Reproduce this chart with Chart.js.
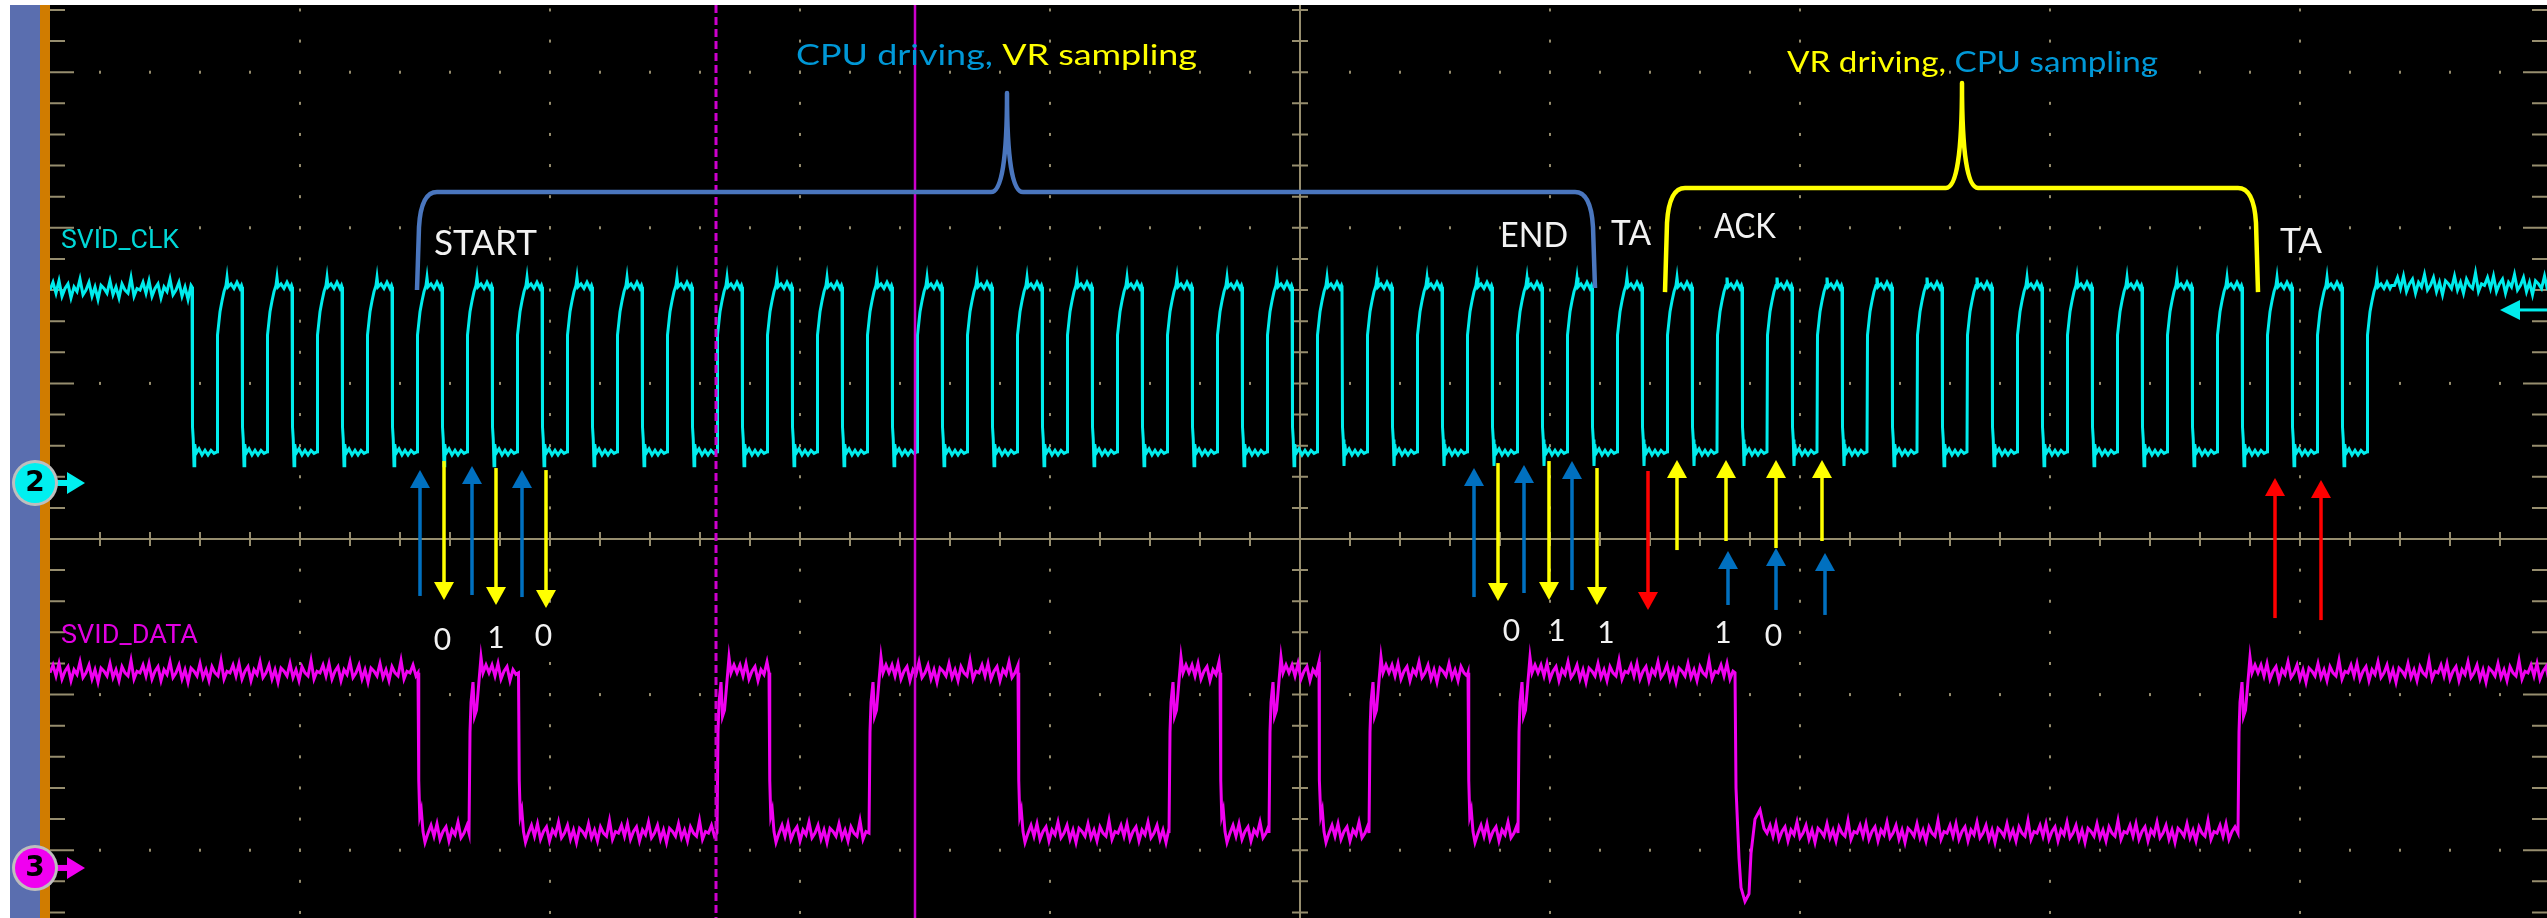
<!DOCTYPE html>
<html><head><meta charset="utf-8">
<script src="https://cdn.jsdelivr.net/npm/chart.js@4.4.1/dist/chart.umd.min.js"></script>
<style>html,body{margin:0;padding:0;background:#fff;overflow:hidden}canvas{display:block}</style>
</head><body>
<canvas id="c" width="2547" height="918"></canvas>
<script>
// ===== DATA (time in ns, 200 ns/div; amplitude in screen divisions, 0 = centre line) =====
// SVID_CLK falling-edge instants
const clkFallNs = [113.6, 153.6, 193.6, 233.6, 273.6, 313.6, 353.6, 393.6, 433.6, 473.6,
  513.6, 553.6, 593.6, 633.6, 673.6, 713.6, 753.6, 793.6, 833.6, 873.6,
  913.6, 953.6, 993.6, 1033.6, 1073.6, 1113.6, 1153.6, 1193.6, 1233.6, 1273.6,
  1313.6, 1353.6, 1393.6, 1433.6, 1473.6, 1513.6, 1553.6, 1593.6, 1633.6, 1673.6,
  1713.6, 1753.6, 1793.6, 1833.6];
// one clock cycle as seen on screen (offset from falling edge, ns / level, div)
const clkCycleDt  = [0, 0.4, 1.0, 1.6, 2.2, 3.2, 5.6, 8.0, 10.4, 12.8, 15.2, 17.6, 20.0, 20.4, 21.2, 22.4, 24.0, 25.6, 27.2, 28.0, 28.8, 31.2, 33.6, 36.0, 38.4, 39.6];
const clkCycleDiv = [1.62, 0.72, 0.64, 0.47, 0.61, 0.55, 0.58, 0.54, 0.57, 0.54, 0.57, 0.55, 0.56, 1.31, 1.37, 1.46, 1.53, 1.59, 1.63, 1.68, 1.62, 1.64, 1.61, 1.65, 1.61, 1.63];
const clkIdleLeftDiv = 1.60;
const clkIdleRightDiv = 1.63;

// SVID_DATA transitions
const dataEdgeNs   = [294.4, 335.2, 374.8, 533.6, 575.2, 655.2, 774.4, 895.2, 936.0, 975.2, 1015.2, 1055.2, 1134.4, 1174.4, 1348.0, 1750.4];
const dataEdgeKind = ['fall','rise','fall','rise','fall','rise','fall','rise','fall','rise','fall','rise','fall','rise','undershoot','rise'];
const dataHighDiv = -0.86;
const dataLowDiv  = -1.89;
const riseDt  = [0, 0.8, 1.6, 3.2, 4.4, 6.0, 7.6, 9.6, 11.2, 13.6];
const riseDiv = [-1.89, -1.24, -1.05, -0.92, -1.14, -1.10, -0.95, -0.76, -0.86, -0.81];
const fallDt  = [0, 0.6, 1.4, 2.6, 4.0, 5.6];
const fallDiv = [-0.86, -1.55, -1.78, -1.74, -1.88, -1.95];
const undershootDt  = [0, 0.8, 3.2, 4.8, 8.0, 11.2, 12.8, 16.0, 20.0, 23.2];
const undershootDiv = [-0.86, -1.60, -2.05, -2.24, -2.33, -2.28, -2.02, -1.80, -1.74, -1.86];
const rippleDiv = [0.00, 0.05, -0.02, 0.06, -0.04, 0.01, 0.04, -0.05, 0.02, -0.01, 0.07, -0.03, 0.00, 0.05, -0.04, 0.02, -0.06, 0.03, 0.01, -0.02, 0.06, -0.03, 0.02, -0.05, 0.04, 0.00, -0.02, 0.08, -0.04, 0.01];
const rippleStepNs = 2.4;

// channel ground markers (div) and trigger level (div)
const chGroundDiv = [0.36, -2.114];
const chNames = ['2', '3'];
const triggerDiv = 1.472;
// cursors (ns)
const cursorDashedNs = 532.8;
const cursorSolidNs = 692.0;

// ===== annotations (data coordinates) =====
const BLUE_T = 'rgb(0,152,215)', YEL = 'rgb(255,255,0)', ARW_B = 'rgb(0,112,192)', RED = 'rgb(255,0,0)', WHITE = 'rgb(242,242,242)';
const titles = [
  {segs: [['CPU driving, ', BLUE_T], ['VR sampling', YEL]], x0: 596.8, x1: 917.6, base: 3.046},
  {segs: [['VR driving, ', YEL], ['CPU sampling', BLUE_T]], x0: 1389.6, x1: 1686.4, base: 3.001}
];
const phaseLabels = [
  {t: 'START', x0: 307.2, x1: 389.6, base: 1.825},
  {t: 'END', x0: 1160, x1: 1214.4, base: 1.877},
  {t: 'TA', x0: 1248.8, x1: 1280.8, base: 1.889},
  {t: 'ACK', x0: 1331.2, x1: 1380.8, base: 1.934},
  {t: 'TA', x0: 1784, x1: 1817.6, base: 1.838}
];
const bitLabels = [
  {t: '0', x: 314, base: -0.713}, {t: '1', x: 356.8, base: -0.70}, {t: '0', x: 394.8, base: -0.688},
  {t: '0', x: 1169.2, base: -0.656}, {t: '1', x: 1205.6, base: -0.656}, {t: '1', x: 1244.8, base: -0.668},
  {t: '1', x: 1338.4, base: -0.668}, {t: '0', x: 1378.8, base: -0.688}
];
const arrows = [
  {x: 296, from: -0.366, to: 0.443, c: ARW_B}, {x: 337.6, from: -0.36, to: 0.469, c: ARW_B}, {x: 377.6, from: -0.373, to: 0.443, c: ARW_B},
  {x: 315.2, from: 0.501, to: -0.392, c: YEL}, {x: 356.8, from: 0.456, to: -0.424, c: YEL}, {x: 396.8, from: 0.443, to: -0.443, c: YEL},
  {x: 1139.2, from: -0.373, to: 0.456, c: ARW_B}, {x: 1179.2, from: -0.347, to: 0.476, c: ARW_B}, {x: 1217.6, from: -0.328, to: 0.501, c: ARW_B},
  {x: 1158.4, from: 0.488, to: -0.398, c: YEL}, {x: 1199.2, from: 0.501, to: -0.392, c: YEL}, {x: 1237.6, from: 0.456, to: -0.424, c: YEL},
  {x: 1278.4, from: 0.437, to: -0.456, c: RED},
  {x: 1301.6, from: -0.071, to: 0.508, c: YEL}, {x: 1340.8, from: -0.013, to: 0.508, c: YEL}, {x: 1380.8, from: -0.058, to: 0.508, c: YEL}, {x: 1417.6, from: -0.013, to: 0.508, c: YEL},
  {x: 1342.4, from: -0.424, to: -0.077, c: ARW_B}, {x: 1380.8, from: -0.456, to: -0.058, c: ARW_B}, {x: 1420, from: -0.488, to: -0.09, c: ARW_B},
  {x: 1780, from: -0.508, to: 0.392, c: RED}, {x: 1816.8, from: -0.521, to: 0.379, c: RED}
];
const brackets = [
  {x1: 293.6, x2: 1236, xp: 765.6, yEnd1: 1.60, yEnd2: 1.613, yBar: 2.23, yPeak: 2.866, c: 'rgb(74,118,190)'},
  {x1: 1292, x2: 1766.4, xp: 1529.6, yEnd1: 1.587, yEnd2: 1.587, yBar: 2.256, yPeak: 2.931, c: 'rgb(255,255,0)'}
];
const chLabels = [
  {t: 'SVID_CLK', x0: 8.8, x1: 103.2, base: 1.870, c: 'rgb(0,215,215)'},
  {t: 'SVID_DATA', x0: 8.8, x1: 118.4, base: -0.668, c: 'rgb(225,0,225)'}
];

// ===== build trace point lists =====
function addPlateau(pts, t0, t1, level) {
  let i = 0;
  for (let t = t0; t < t1; t += rippleStepNs, i++) pts.push({x: t, y: level + rippleDiv[i % rippleDiv.length]});
}
const clkPts = [];
addPlateau(clkPts, 0, clkFallNs[0], clkIdleLeftDiv);
clkFallNs.forEach(f => clkCycleDt.forEach((dt, i) => clkPts.push({x: f + dt, y: clkCycleDiv[i]})));
addPlateau(clkPts, clkFallNs[clkFallNs.length - 1] + clkCycleDt[clkCycleDt.length - 1] + rippleStepNs, 2000, clkIdleRightDiv);

const dataTpl = {rise: [riseDt, riseDiv], fall: [fallDt, fallDiv], undershoot: [undershootDt, undershootDiv]};
const dataPts = [];
addPlateau(dataPts, 0, dataEdgeNs[0], dataHighDiv);
dataEdgeNs.forEach((e, k) => {
  const [dts, vs] = dataTpl[dataEdgeKind[k]];
  dts.forEach((dt, i) => dataPts.push({x: e + dt, y: vs[i]}));
  const next = k + 1 < dataEdgeNs.length ? dataEdgeNs[k + 1] : 2000;
  addPlateau(dataPts, e + dts[dts.length - 1] + rippleStepNs, next, dataEdgeKind[k] === 'rise' ? dataHighDiv : dataLowDiv);
});

// ===== drawing helpers =====
const GRAT = 'rgb(150,141,110)';
function fitText(ctx, segs, X0, X1, base, size, family, weight) {
  ctx.font = (weight || 'normal') + ' ' + size + 'px ' + family;
  const total = segs.reduce((s, g) => s + ctx.measureText(g[0]).width, 0);
  ctx.save();
  ctx.translate(X0, base); ctx.scale((X1 - X0) / total, 1);
  ctx.textAlign = 'left'; ctx.textBaseline = 'alphabetic';
  let cx = 0;
  for (const g of segs) { ctx.fillStyle = g[1]; ctx.fillText(g[0], cx, 0); cx += ctx.measureText(g[0]).width; }
  ctx.restore();
}
function vArrow(ctx, X, Y0, Y1, color) {
  const dir = Math.sign(Y1 - Y0), hl = 18, hw = 10;
  ctx.strokeStyle = color; ctx.lineWidth = 3.5; ctx.lineCap = 'butt';
  ctx.beginPath(); ctx.moveTo(X, Y0); ctx.lineTo(X, Y1 - dir * (hl - 2)); ctx.stroke();
  ctx.fillStyle = color;
  ctx.beginPath(); ctx.moveTo(X, Y1); ctx.lineTo(X - hw, Y1 - dir * hl); ctx.lineTo(X + hw, Y1 - dir * hl); ctx.closePath(); ctx.fill();
}

const scopePlugin = {
  id: 'scope',
  beforeDraw(chart) {
    const {ctx, chartArea: a, width, height} = chart;
    ctx.save();
    ctx.fillStyle = '#fff'; ctx.fillRect(0, 0, width, height);
    ctx.fillStyle = '#000'; ctx.fillRect(a.left, a.top, a.right - a.left, a.bottom - a.top);
    ctx.fillStyle = 'rgb(90,110,175)'; ctx.fillRect(10, a.top, a.left - 20, height - a.top);
    ctx.fillStyle = 'rgb(208,124,0)'; ctx.fillRect(a.left - 10, a.top, 10, height - a.top);
    ctx.restore();
  },
  beforeDatasetsDraw(chart) {
    const {ctx, chartArea: a, scales: {x, y}} = chart;
    const px = v => x.getPixelForValue(v), py = v => y.getPixelForValue(v);
    ctx.save();
    ctx.beginPath(); ctx.rect(a.left, a.top, a.right - a.left, a.bottom - a.top); ctx.clip();
    ctx.fillStyle = GRAT;
    // dotted graticule
    for (let k = 1; k <= 9; k++) {
      if (k === 5) continue;
      const X = px(k * 200);
      for (let j = -12; j <= 17; j++) ctx.fillRect(X - 1, py(j * 0.2) - 1.5, 2, 3);
    }
    for (const r of [-2, -1, 1, 2, 3]) {
      const Y = py(r);
      for (let i = 1; i < 50; i++) ctx.fillRect(px(i * 40) - 1, Y - 1.5, 2, 3);
    }
    // centre cross with ticks
    ctx.strokeStyle = GRAT; ctx.lineWidth = 2;
    const X0 = px(1000), Y0 = py(0);
    ctx.beginPath(); ctx.moveTo(a.left, Y0); ctx.lineTo(a.right, Y0); ctx.moveTo(X0, a.top); ctx.lineTo(X0, a.bottom); ctx.stroke();
    ctx.beginPath();
    for (let i = 1; i < 50; i++) { const X = px(i * 40); ctx.moveTo(X, Y0 - 7); ctx.lineTo(X, Y0 + 7); }
    for (let j = -12; j <= 17; j++) { const Y = py(j * 0.2); ctx.moveTo(X0 - 8, Y); ctx.lineTo(X0 + 8, Y); }
    // edge ticks
    for (let j = -12; j <= 17; j++) {
      const Y = py(j * 0.2), L = (j % 5 === 0) ? 24 : 15;
      ctx.moveTo(a.left, Y); ctx.lineTo(a.left + L, Y);
      ctx.moveTo(a.right - L, Y); ctx.lineTo(a.right, Y);
    }
    ctx.stroke();
    ctx.restore();
  },
  afterDatasetsDraw(chart) {
    const {ctx, chartArea: a, scales: {x, y}} = chart;
    const px = v => x.getPixelForValue(v), py = v => y.getPixelForValue(v);
    ctx.save();
    // cursors
    ctx.strokeStyle = 'rgb(205,0,205)';
    ctx.lineWidth = 3; ctx.setLineDash([8, 4]);
    ctx.beginPath(); ctx.moveTo(px(cursorDashedNs), a.top); ctx.lineTo(px(cursorDashedNs), a.bottom); ctx.stroke();
    ctx.setLineDash([]); ctx.lineWidth = 2.5;
    ctx.beginPath(); ctx.moveTo(px(cursorSolidNs), a.top); ctx.lineTo(px(cursorSolidNs), a.bottom); ctx.stroke();
    // trigger marker
    const TY = py(triggerDiv), TX = a.right - 47;
    ctx.fillStyle = 'rgb(0,236,236)';
    ctx.beginPath(); ctx.moveTo(TX, TY); ctx.lineTo(TX + 20, TY - 10); ctx.lineTo(TX + 20, TY + 10); ctx.closePath(); ctx.fill();
    ctx.fillRect(TX + 18, TY - 1.5, a.right - TX - 18, 3);
    // brackets
    ctx.lineWidth = 4.5; ctx.lineJoin = 'round';
    for (const b of brackets) {
      const X1 = px(b.x1), X2 = px(b.x2), XP = px(b.xp), YB = py(b.yBar), YP = py(b.yPeak);
      ctx.strokeStyle = b.c;
      ctx.beginPath();
      ctx.moveTo(X1, py(b.yEnd1)); ctx.lineTo(X1 + 2, YB + 35); ctx.quadraticCurveTo(X1 + 4, YB, X1 + 20, YB);
      ctx.lineTo(XP - 16, YB); ctx.quadraticCurveTo(XP, YB, XP, YP); ctx.quadraticCurveTo(XP, YB, XP + 16, YB);
      ctx.lineTo(X2 - 20, YB); ctx.quadraticCurveTo(X2 - 4, YB, X2 - 2, YB + 35); ctx.lineTo(X2, py(b.yEnd2));
      ctx.stroke();
    }
    // arrows
    for (const ar of arrows) vArrow(ctx, px(ar.x), py(ar.from), py(ar.to), ar.c);
    // texts
    for (const t of titles) fitText(ctx, t.segs, px(t.x0), px(t.x1), py(t.base), 29, 'Lato');
    for (const l of phaseLabels) fitText(ctx, [[l.t, WHITE]], px(l.x0), px(l.x1), py(l.base), 35, 'Lato');
    for (const l of chLabels) fitText(ctx, [[l.t, l.c]], px(l.x0), px(l.x1), py(l.base), 26, 'Roboto');
    ctx.font = '30px Lato'; ctx.fillStyle = WHITE; ctx.textAlign = 'center'; ctx.textBaseline = 'alphabetic';
    for (const b of bitLabels) ctx.fillText(b.t, px(b.x), py(b.base));
    ctx.restore();
  },
  afterDraw(chart) {
    const {ctx, scales: {y}} = chart;
    ctx.save();
    const fills = ['rgb(0,240,240)', 'rgb(240,0,240)'];
    chGroundDiv.forEach((g, i) => {
      const Y = y.getPixelForValue(g), cx = 35;
      ctx.fillStyle = fills[i];
      ctx.fillRect(cx + 18, Y - 3, 18, 6);
      ctx.beginPath(); ctx.moveTo(cx + 32, Y - 11); ctx.lineTo(cx + 50, Y); ctx.lineTo(cx + 32, Y + 11); ctx.closePath(); ctx.fill();
      ctx.beginPath(); ctx.arc(cx, Y, 23, 0, 2 * Math.PI); ctx.fillStyle = 'rgb(190,190,190)'; ctx.fill();
      ctx.beginPath(); ctx.arc(cx, Y, 20, 0, 2 * Math.PI); ctx.fillStyle = fills[i]; ctx.fill();
      ctx.fillStyle = '#000'; ctx.font = 'bold 28px "DejaVu Sans"'; ctx.textAlign = 'center'; ctx.textBaseline = 'middle';
      ctx.fillText(chNames[i], cx, Y + 1);
    });
    ctx.restore();
  }
};

new Chart(document.getElementById('c'), {
  type: 'line',
  data: {datasets: [
    {label: 'SVID_CLK', data: clkPts, borderColor: 'rgb(0,236,236)', borderWidth: 3, pointRadius: 0, tension: 0, fill: false},
    {label: 'SVID_DATA', data: dataPts, borderColor: 'rgb(240,0,240)', borderWidth: 3, pointRadius: 0, tension: 0, fill: false}
  ]},
  options: {
    responsive: false, devicePixelRatio: 1, animation: false, parsing: false, events: [],
    layout: {padding: {left: 50, top: 5, right: 0, bottom: 0}},
    scales: {
      x: {type: 'linear', min: 0, max: 1997.6, display: false},
      y: {type: 'linear', min: -2.4357, max: 3.4319, display: false}
    },
    plugins: {legend: {display: false}, tooltip: {enabled: false}}
  },
  plugins: [scopePlugin]
});
</script>
</body></html>
